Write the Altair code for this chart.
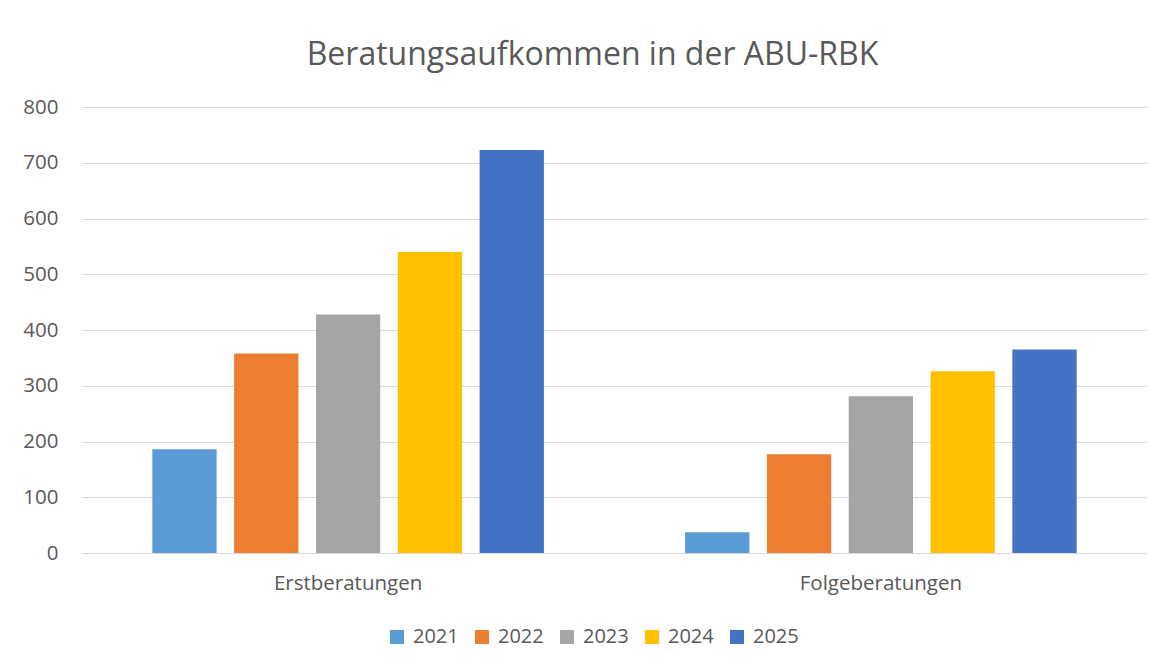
import altair as alt
import pandas as pd

categories = ["Erstberatungen", "Folgeberatungen"]
years = ["2021", "2022", "2023", "2024", "2025"]
erst = [186, 358, 428, 540, 723]
folge = [37, 177, 281, 326, 365]
colors = ["#5B9BD5", "#ED7D31", "#A5A5A5", "#FFC000", "#4472C4"]
y_ticks = [0, 100, 200, 300, 400, 500, 600, 700, 800]

rows = []
for yr, e, f in zip(years, erst, folge):
    rows.append({"Kategorie": categories[0], "Jahr": yr, "Wert": e})
    rows.append({"Kategorie": categories[1], "Jahr": yr, "Wert": f})
df = pd.DataFrame(rows)

FONT = "Open Sans"
TXT = "#595959"

chart = alt.Chart(df).mark_bar().encode(
    x=alt.X(
        "Kategorie:N",
        sort=categories,
        scale=alt.Scale(paddingInner=0.265, paddingOuter=0.132),
        axis=alt.Axis(
            title=None, labelAngle=0, ticks=False, tickSize=0, domain=False,
            grid=False,
            labelPadding=20, labelFontSize=20.5, labelColor=TXT, labelFont=FONT,
        ),
    ),
    xOffset=alt.XOffset(
        "Jahr:N", sort=years,
        scale=alt.Scale(paddingInner=0.214, paddingOuter=0),
    ),
    y=alt.Y(
        "Wert:Q",
        scale=alt.Scale(domain=[0, 800], nice=False),
        axis=alt.Axis(
            values=y_ticks, title=None, ticks=False, tickSize=0, domain=False,
            grid=True, gridColor="#D9D9D9", gridWidth=1.2,
            labelPadding=24, labelFontSize=20.5, labelColor=TXT, labelFont=FONT,
        ),
    ),
    color=alt.Color(
        "Jahr:N", sort=years,
        scale=alt.Scale(domain=years, range=colors),
        legend=alt.Legend(
            orient="none", legendX=305, legendY=520, direction="horizontal",
            title=None, symbolType="square", symbolSize=196,
            symbolStrokeWidth=0, labelFontSize=20, labelFont=FONT,
            labelColor=TXT, columnPadding=13, labelOffset=6, padding=0,
        ),
    ),
).properties(
    width=1065,
    height=446,
    autosize=alt.AutoSizeParams(type="none"),
    padding={"left": 74, "top": 99, "right": 10, "bottom": 100},
    title=alt.TitleParams(
        "Beratungsaufkommen in der ABU-RBK", font=FONT, fontSize=32,
        fontWeight="normal", color=TXT, anchor="middle", offset=25, dx=-22,
    ),
).configure(
    background="white",
    view=alt.ViewConfig(stroke=None),
)

chart.save("out.html", embed_options={"renderer": "svg", "actions": False})
